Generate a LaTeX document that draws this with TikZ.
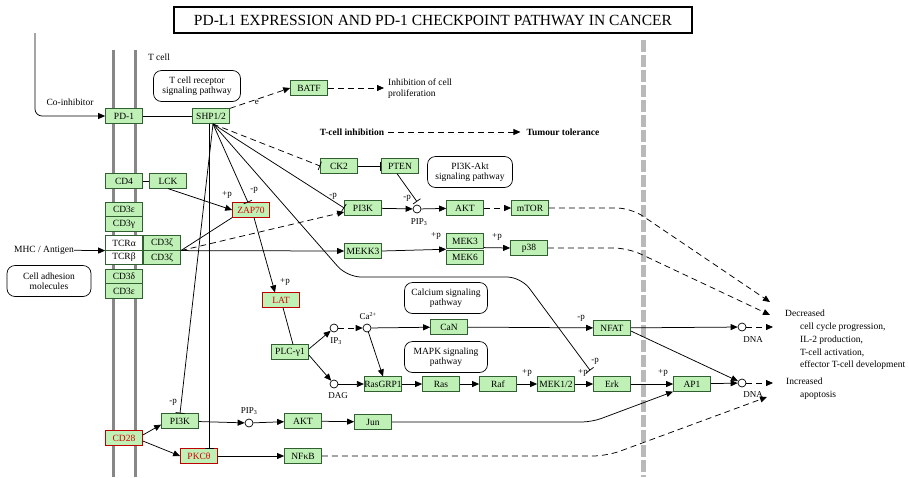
\documentclass[tikz,border=0pt]{standalone}
\usepackage{fontspec}
\setmainfont{Liberation Serif}
\usetikzlibrary{arrows.meta,calc}
\definecolor{gfill}{RGB}{191,240,182}
\definecolor{gborder}{RGB}{50,95,50}
\definecolor{memb}{RGB}{135,135,135}
\definecolor{gdash}{RGB}{185,185,185}
\tikzset{
 gene/.style={draw=gborder, fill=gfill, minimum width=37pt, minimum height=14.5pt, inner sep=0pt, font=\fontsize{9.5}{10}\selectfont, line width=0.7pt},
 rgene/.style={gene, draw=red!75!black, text=red!85!black},
 wgene/.style={gene, fill=white},
 pw/.style={draw, rounded corners=8pt, align=center, font=\fontsize{9.5}{10}\selectfont, inner sep=0pt, line width=0.7pt},
 cmp/.style={circle, draw, fill=white, minimum size=8pt, inner sep=0pt, line width=0.7pt},
 lab/.style={font=\fontsize{9}{10}\selectfont, inner sep=0pt},
 txt/.style={font=\fontsize{9.5}{11}\selectfont, inner sep=0pt, align=left},
 act/.style={-{Triangle[length=7pt,width=6pt]}, line width=0.75pt},
 inh/.style={-{Bar[width=9pt]}, line width=0.75pt},
 con/.style={line width=0.75pt},
 dsh/.style={dash pattern=on 6pt off 4pt},
 membrane/.style={draw=memb, line width=3pt},
 celldiv/.style={draw=gdash, line width=5pt, dash pattern=on 12pt off 3pt},
}
\begin{document}
\begin{tikzpicture}[x=1pt,y=-1pt]
\useasboundingbox (0,0) rectangle (909,477);
% title
\node[draw, line width=1.5pt, minimum width=518pt, minimum height=26pt, inner sep=0pt] (title) at (433,20)
 {\fontsize{15.5}{16}\selectfont PD-L1 EXPRESSION AND PD-1 CHECKPOINT PATHWAY IN CANCER};
% membrane and divider
\coordinate (m1t) at (113,50); \coordinate (m1b) at (113,477);
\coordinate (m2t) at (135,50); \coordinate (m2b) at (135,477);
\draw[membrane] (m1t) -- (m1b);
\draw[membrane] (m2t) -- (m2b);
\coordinate (dvt) at (643,40); \coordinate (dvb) at (643,477);
\draw[celldiv] (dvt) -- (dvb);
\node[txt] (tcell) at (159,57) {T cell};
% pathway boxes
\node[pw, minimum width=87pt, minimum height=31pt] (tcrpw) at (197,86) {T cell receptor\\signaling pathway};
\node[pw, minimum width=85pt, minimum height=31pt] (pi3kpw) at (470,172) {PI3K-Akt\\signaling pathway};
\node[pw, minimum width=83pt, minimum height=31pt] (capw) at (446,298) {Calcium signaling\\pathway};
\node[pw, minimum width=83pt, minimum height=31pt] (mapkpw) at (446,357) {MAPK signaling\\pathway};
\node[pw, minimum width=84pt, minimum height=31pt] (cadh) at (49,281) {Cell adhesion\\molecules};
% genes
\node[gene] (PD1) at (124,116) {PD-1};
\node[gene] (SHP) at (211,116) {SHP1/2};
\node[gene] (BATF) at (309,88) {BATF};
\node[gene] (CK2) at (339,166) {CK2};
\node[gene] (PTEN) at (400,166) {PTEN};
\node[gene] (PI3Ku) at (363,208) {PI3K};
\node[gene] (AKTu) at (465,208) {AKT};
\node[gene] (mTOR) at (530,208) {mTOR};
\node[gene] (CD4) at (124,181) {CD4};
\node[gene] (LCK) at (168,181) {LCK};
\node[gene] (CD3e) at (124,209.5) {CD3ε};
\node[gene] (CD3g) at (124,224) {CD3γ};
\node[wgene] (TCRa) at (124,243) {TCRα};
\node[wgene] (TCRb) at (124,257.5) {TCRβ};
\node[gene] (CD3za) at (162,243) {CD3ζ};
\node[gene] (CD3zb) at (162,257.5) {CD3ζ};
\node[gene] (CD3d) at (124,276.5) {CD3δ};
\node[gene] (CD3e2) at (124,291) {CD3ε};
\node[rgene] (ZAP70) at (251,210) {ZAP70};
\node[rgene] (LAT) at (281,300) {LAT};
\node[gene] (MEKK3) at (363,251) {MEKK3};
\node[gene] (MEK3) at (465,241) {MEK3};
\node[gene] (MEK6) at (465,257.5) {MEK6};
\node[gene] (p38) at (529,248) {p38};
\node[gene] (PLC) at (290,352) {PLC-γ1};
\node[gene] (CaN) at (449,327) {CaN};
\node[gene] (NFAT) at (612,328) {NFAT};
\node[gene] (RasGRP) at (383,384) {RasGRP1};
\node[gene] (Ras) at (441,384) {Ras};
\node[gene] (Raf) at (498,384) {Raf};
\node[gene] (MEK12) at (556,384) {MEK1/2};
\node[gene] (Erk) at (612,384) {Erk};
\node[gene] (AP1) at (692,384) {AP1};
\node[gene] (PI3Kl) at (180,421) {PI3K};
\node[rgene] (CD28) at (124,438) {CD28};
\node[rgene] (PKC) at (199,456) {PKCθ};
\node[gene] (AKTl) at (303,421) {AKT};
\node[gene] (Jun) at (373,422) {Jun};
\node[gene] (NFkB) at (303,456) {NFκB};
% compounds
\node[cmp] (PIP3u) at (417,209) {};
\node[cmp] (IP3) at (334,328) {};
\node[cmp] (Ca) at (367,328) {};
\node[cmp] (DAG) at (334,384) {};
\node[cmp] (PIP3l) at (249,423) {};
\node[cmp] (DNA1) at (742,327) {};
\node[cmp] (DNA2) at (742,383) {};
% texts
\node[txt] (coinh) at (70,102) {Co-inhibitor};
\node[txt] (mhc) at (44,250) {MHC / Antigen};
\node[txt, anchor=west] (inhprol) at (388,89) {Inhibition of cell\\proliferation};
\node[txt, font=\fontsize{9.5}{11}\selectfont\bfseries] (tci) at (352,132) {T-cell inhibition};
\node[txt, font=\fontsize{9.5}{11}\selectfont\bfseries] (tt) at (563,132) {Tumour tolerance};
\node[txt, anchor=west] (decr) at (785,313) {Decreased};
\node[txt, anchor=west] (dec1) at (800,327) {cell cycle progression,};
\node[txt, anchor=west] (dec2) at (800,340) {IL-2 production,};
\node[txt, anchor=west] (dec3) at (800,352.5) {T-cell activation,};
\node[txt, anchor=west] (dec4) at (800,365) {effector T-cell development};
\node[txt, anchor=west] (incr) at (786,381) {Increased};
\node[txt, anchor=west] (apop) at (800,395) {apoptosis};
% compound labels
\node[lab] (lpip3u) at (419,222) {PIP\textsubscript{3}};
\node[lab] (lip3) at (336,341) {IP\textsubscript{3}};
\node[lab] (lca) at (368,316) {Ca\textsuperscript{2+}};
\node[lab] (ldag) at (338,396) {DAG};
\node[lab] (lpip3l) at (249,411) {PIP\textsubscript{3}};
\node[lab] (ldna1) at (753,340) {DNA};
\node[lab] (ldna2) at (753,395) {DNA};
% modification labels
\node[lab] (p1) at (227,195) {+p};
\node[lab] (p2) at (254,190) {-p};
\node[lab] (p3) at (285,282) {+p};
\node[lab] (p4) at (333,196) {-p};
\node[lab] (p5) at (407,198) {-p};
\node[lab] (p6) at (436,236) {+p};
\node[lab] (p7) at (497,237) {+p};
\node[lab] (p8) at (581,318) {-p};
\node[lab] (p9) at (527,373) {+p};
\node[lab] (p10) at (583,373) {+p};
\node[lab] (p11) at (595,361) {-p};
\node[lab] (p12) at (663,373) {+p};
\node[lab] (p13) at (173,402) {-p};
% free ends
\coordinate (topl) at (35,33);
\coordinate (inhend) at (384,88);
\coordinate (decA) at (770,302);
\coordinate (decB) at (770,315);
\coordinate (decC) at (773,327);
\coordinate (decD) at (773,383);
\coordinate (decE) at (767,397);
\coordinate (shpb) at (213,124);
% edges
\draw[act, rounded corners=7pt] (topl) |- (PD1.west);
\draw[con] (PD1) -- (SHP);
\draw[act, dsh] (SHP.north east) -- (BATF.west) node[lab, pos=0.45, below=1pt] {e};
\draw[act, dsh] (BATF) -- (inhend);
\draw[act, dsh, shorten <=4pt, shorten >=6pt] (tci) -- (tt);
\draw[inh, dsh] (shpb) -- (CK2.west);
\draw[inh] (CK2) -- (PTEN);
\draw[inh] (shpb) -- (PI3Ku.west);
\draw[inh] (shpb) -- ($(ZAP70.north)+(-3,0)$);
\draw[inh, rounded corners=14pt] (shpb) -- (347,277) -- (521,277) -- ($(Erk.north west)+(-3,-6)$);
\draw[inh] ($(SHP.south)+(-2,0)$) -- ($(PKC.north)+(10,0)$);
\draw[inh] (shpb) -- (PI3Kl.north);
\draw[inh] ($(PTEN.south)+(-3,0)$) -- ($(PIP3u.north)+(0,-3)$);
\draw[con] (CD4) -- (LCK);
\draw[act] (LCK.south) -- (ZAP70.west);
\draw[act] (mhc) -- (TCRa.south west);
\draw[con] (CD3za.south east) -- (ZAP70.south west);
\draw[act, dsh] (CD3za.south east) -- ($(PI3Ku.west)+(0,4)$);
\draw[act] (CD3za.south east) -- (MEKK3.west);
\draw[act] ($(ZAP70.south)+(3,0)$) -- ($(LAT.north)+(-6,0)$);
\draw[con] ($(LAT.south)+(2,0)$) -- ($(PLC.north)+(3,0)$);
\draw[act] (PI3Ku) -- (PIP3u);
\draw[act] (PIP3u) -- (AKTu);
\draw[act, dsh] (AKTu) -- (mTOR);
\draw[act, dsh, rounded corners=14pt] (mTOR.east) -- ++(82,0) -- (decA);
\draw[act] (MEKK3.east) -- ($(MEK3.south west)!0.5!(MEK6.north west)$);
\draw[act] ($(MEK3.south east)+(0,-1)$) -- (p38.west);
\draw[act, dsh, rounded corners=14pt] (p38.east) -- ++(80,0) -- (decB);
\draw[act] ($(PLC.east)+(0,-3)$) -- (IP3);
\draw[act] ($(PLC.east)+(0,3)$) -- (DAG);
\draw[act, dsh] (IP3) -- (Ca);
\draw[act] (Ca) -- (CaN);
\draw[act] (Ca) -- (RasGRP.north);
\draw[act] (CaN) -- (NFAT);
\draw[act] (DAG) -- (RasGRP);
\draw[act] (RasGRP) -- (Ras);
\draw[act] (Ras) -- (Raf);
\draw[act] (Raf) -- (MEK12);
\draw[act] (MEK12) -- (Erk);
\draw[act] (Erk) -- (AP1);
\draw[act] (NFAT) -- (DNA1);
\draw[act] ($(NFAT.east)+(0,3)$) -- (DNA2);
\draw[act] (AP1) -- (DNA2);
\draw[act, dsh] (DNA1) -- (decC);
\draw[act, dsh] (DNA2) -- (decD);
\draw[act] ($(CD28.east)+(0,-3)$) -- ($(PI3Kl.south west)+(0,-4)$);
\draw[act] ($(CD28.east)+(0,3)$) -- (PKC.west);
\draw[act] (PI3Kl) -- (PIP3l);
\draw[act] (PIP3l) -- (AKTl);
\draw[act] (AKTl) -- (Jun);
\draw[act, rounded corners=10pt] (Jun.east) -- ++(200,0) -- (AP1.south west);
\draw[act] (PKC) -- (NFkB);
\draw[act, dsh, rounded corners=14pt] (NFkB.east) -- ++(285,0) -- (decE);
\end{tikzpicture}
\end{document}
